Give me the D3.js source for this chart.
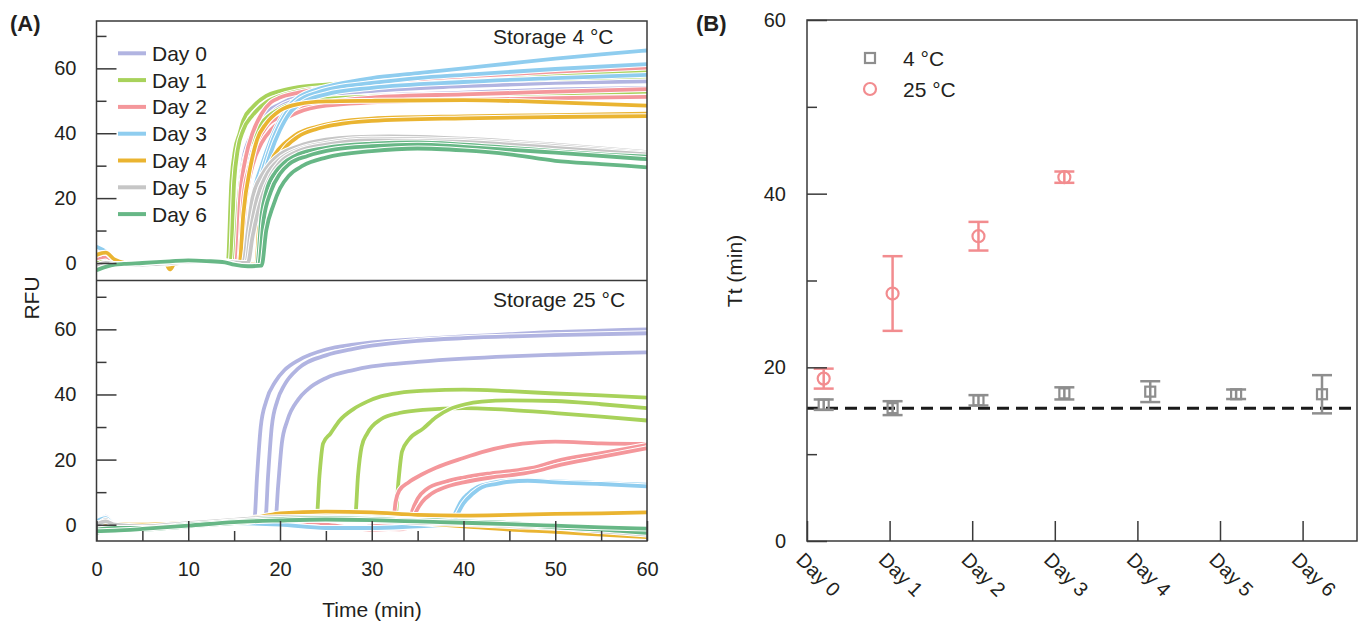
<!DOCTYPE html>
<html><head><meta charset="utf-8">
<script src="https://cdn.jsdelivr.net/npm/d3@7"></script>
<style>
html,body{margin:0;padding:0;background:#fff;}
svg{display:block;font-family:"Liberation Sans",Arial,Helvetica,sans-serif;}
</style></head><body>
<svg id="chart" width="1360" height="627"></svg>
<script>
// ---------------- DATA ----------------
const days = ["Day 0","Day 1","Day 2","Day 3","Day 4","Day 5","Day 6"];
const dayColors = ["#b1b4e1","#a8d25b","#f4979b","#8fcdef","#eab431","#c6c6c6","#67b786"];
const xTicksA = [0,10,20,30,40,50,60];
const xMinorA = [5,15,25,35,45,55];
const yTicksA = [0,20,40,60];
const yMinorA = [10,30,50,70];
const panelLabels = ["Storage 4 °C","Storage 25 °C"];

// Storage 4 °C: baseline (pre-onset) readings per day
const pre4C = [
 [[0,0.8],[1,1.2],[2,0],[3,-0.5],[5,-0.4],[8,0.2],[10,0.4],[12,0.5],[14,0.3]],
 [[0,0.3],[1,0.8],[2,-0.3],[3,-0.8],[5,-0.5],[8,0],[10,0.5],[12,0.6],[13.8,0.2]],
 [[0,1.5],[1,2],[2,0.5],[3,-0.3],[5,-0.8],[8,0],[10,0.3],[12,0.6],[14,0.5]],
 [[0,5],[1,3.5],[2,1],[3,0],[5,-0.5],[8,0],[10,0.3],[12,0.4],[14,0.2]],
 [[0,2.5],[1,3.2],[2,1],[3,0],[5,-0.5],[7.5,0],[8,-2],[8.5,-0.3],[10,0.3],[12,0.4],[14,0.3]],
 [[0,-1],[1,0],[2,-0.3],[3,-0.6],[5,-0.5],[8,0],[10,0.4],[12,0.5],[14,0.3]],
 [[0,-2.2],[1,-1.2],[2,-0.5],[3,-0.3],[5,0],[8,0.5],[10,0.8],[12,0.6],[14,0.2],[15,-0.5],[16.5,-1]]
];
// Storage 4 °C: amplification part, 3 replicates per day
const rise4C = [
 [ [[15,0],[15.5,20],[16,32],[17,40],[18,45],[20,49],[22,51.5],[25,53],[30,54.5],[40,55.5],[50,56.5],[60,57]],
   [[15.3,0],[15.8,20],[16.5,33],[17.5,41],[19,46],[21,49.5],[25,51.5],[30,53],[40,54.5],[50,55.5],[60,56]],
   [[15.5,0],[16,18],[17,33],[18,40],[20,46],[23,49.5],[30,51.5],[40,52.5],[50,53.5],[60,54]] ],
 [ [[14.3,0],[14.7,25],[15.1,35],[15.6,40],[16,44],[17,48],[18.5,51.5],[20,53],[22,54.2],[25,55],[30,56],[40,57.5],[50,58.3],[60,59]],
   [[14.6,0],[15,25],[15.4,35],[16,41],[17,45.5],[18.5,49.5],[20,51.5],[22,53],[25,54],[30,55],[40,56],[50,56.8],[60,57.5]],
   [[15,0],[15.5,20],[16,30],[17,38],[18,43],[20,47.5],[22,49.5],[25,50.5],[30,51.3],[40,52],[50,52.3],[60,52.8]] ],
 [ [[15.2,0],[15.7,22],[16.3,33],[17,40],[18,46],[19,49.5],[20,51],[22,52.5],[25,54],[30,55.5],[40,57.5],[50,59],[60,60.2]],
   [[15.5,0],[16,20],[16.7,30],[17.5,37],[18.5,42],[20,45],[22,47.5],[25,49.5],[30,51],[40,52],[50,52.8],[60,53.6]],
   [[15.7,0],[16.2,18],[17,30],[18,37],[19,41],[20,43.5],[22,46.5],[25,48.5],[30,49.5],[40,50.3],[50,50.8],[60,51.2]] ],
 [ [[16,0],[16.5,10],[17,20],[18,30],[19,38],[20,44],[21,48.5],[22,51],[24,53.5],[26,55],[30,57],[35,58.5],[40,60],[45,61.5],[50,63],[55,64.3],[60,65.5]],
   [[16.2,0],[16.8,10],[17.5,22],[18.5,32],[19.5,40],[20.5,45.5],[22,50],[24,52.5],[26,54],[30,55.5],[35,57],[40,58],[50,59.8],[60,61.3]],
   [[16.5,0],[17.2,12],[18,24],[19,34],[20,41],[21,46],[22.5,49.5],[25,52],[30,54],[40,55.8],[50,57],[60,58]] ],
 [ [[15.6,0],[16,15],[16.8,30],[17.5,38],[18.5,43],[20,47],[22,49],[25,49.8],[30,50],[40,50.2],[50,49.5],[60,48.5]],
   [[17.4,-0.5],[17.8,15],[18.3,24],[19,31],[20,35.5],[21,38],[22,40],[24,42],[26,43.3],[30,44.5],[40,45.2],[50,45.6],[60,46]],
   [[17.6,-0.5],[18,12],[18.6,22],[19.3,29],[20.3,34.5],[22,39],[24,41.3],[26,42.6],[30,43.8],[40,44.6],[50,45],[60,45.3]] ],
 [ [[16,0],[16.5,10],[17,20],[18,27],[19,31],[20,33.5],[22,36],[25,38],[28,38.8],[32,39],[40,38.3],[50,36.5],[60,34.2]],
   [[16.3,0],[16.8,10],[17.5,20],[18.5,27],[20,32],[22,35],[25,37],[30,38.3],[40,37.8],[50,36],[60,33.8]],
   [[16.5,0],[17,8],[18,20],[19,27],[20,31],[22,34.5],[25,36.5],[30,37.8],[40,37.3],[50,35.5],[60,33.5]] ],
 [ [[17.5,-0.8],[18,15],[18.5,22],[19.5,28],[20.5,31],[22,33.5],[25,35.5],[30,36.8],[35,37.2],[40,36.5],[45,35.5],[50,34.5],[55,33.5],[60,32.8]],
   [[17.7,-0.8],[18.2,13],[19,22],[20,27.5],[21,30.5],[23,33],[26,35],[30,36],[35,36.5],[40,35.8],[50,34],[60,32]],
   [[18,-0.8],[18.5,10],[19.3,18],[20,23],[21,27],[22.5,30],[25,32.5],[30,34.5],[35,35.3],[40,34.7],[45,33.5],[50,31.5],[55,30.5],[60,29.5]] ]
];

// Storage 25 °C
const pre25C = [
 [[0,0],[1,2.5],[2,0],[5,-0.5],[10,0],[14,0.8],[16,1.2]],
 [[0,-0.5],[1,1.5],[2,-0.5],[5,-0.8],[10,0],[15,1],[20,2],[23,2.5]],
 [[0,0.5],[2,0],[5,-0.5],[10,0.5],[15,1],[20,1],[25,0],[28,-1]],
 [[0,1],[1,2],[2,0],[5,0],[10,0.5],[15,0.5],[20,0],[25,-1],[30,-1],[35,-0.5]],
 [],[],[]
];
const rise25C = [
 [ [[17.2,1.5],[17.5,15],[17.9,30],[18.5,38],[19.5,44],[20.5,47.5],[22,50.5],[25,53.8],[28,55.3],[30,56],[35,57],[40,57.8],[45,58.5],[50,59.2],[55,59.6],[60,60]],
   [[18.4,1.5],[18.7,15],[19.1,30],[19.7,38],[20.5,43],[22,48],[25,52],[28,54],[30,55],[35,56.5],[40,57.3],[50,58.2],[60,58.8]],
   [[19.5,1.5],[19.8,12],[20.2,25],[20.8,32],[22,38.5],[23,41.5],[25,45],[28,47.5],[30,48.6],[35,50],[40,51],[45,51.7],[50,52.2],[55,52.6],[60,52.9]] ],
 [ [[24,2.5],[24.3,15],[24.7,25],[25.5,28],[26.5,32],[28,35.5],[29.5,37.8],[31,39.4],[33,40.5],[36,41.2],[40,41.5],[45,41],[50,40.3],[55,39.7],[60,39]],
   [[25,2.8],[27,3],[28.2,3],[28.5,15],[28.9,24],[29.5,28],[31,32.4],[33,34.3],[35.6,35.3],[40,35.8],[45,35.3],[50,34.3],[55,33.2],[60,32]],
   [[25,2.8],[28,3],[31,3],[32.6,3],[32.9,13],[33.3,22.5],[34,26],[35.6,29.5],[37,33],[38.5,35.5],[40.2,37],[42,37.8],[45,38.2],[50,38],[55,37],[60,35.8]] ],
 [ [[30,-0.5],[32.3,0.5],[32.6,7],[33,10.5],[34,13],[35.5,15.5],[37,17.5],[40,20.5],[42,22.3],[45,24.3],[48,25.3],[50,25.5],[55,25],[60,24.8]],
   [[30,-1.5],[33,-1.5],[34,-1],[34.4,4],[35,8],[36,11],[38,13.2],[40,14.5],[43,15.8],[46,16.8],[48,17.8],[50,19.5],[55,22],[60,24.5]],
   [[30,-1.5],[33,-1.2],[34.3,-1],[34.7,3],[35.5,7],[36.5,9.5],[38,11.5],[40,13],[43,14.5],[46,15.5],[48,16.5],[50,18],[55,20.8],[60,23.5]] ],
 [ [[38.5,0.5],[39,3],[39.7,7],[40.5,9.5],[41.5,11.5],[43,12.8],[45,13.5],[47,13.7],[50,13.3],[55,12.8],[60,12.3]],
   [[38.8,0.5],[39.3,3],[40,6.5],[41,9.5],[42,11.5],[43.5,12.5],[45,13.2],[47,13.5],[50,13],[55,12.5],[60,11.8]],
   [[40,0],[45,-0.5],[50,-0.5],[55,-1],[60,-1.5]] ],
 [ [[0,0],[2,0],[5,-0.5],[10,0.5],[15,1.5],[18,2.5],[20,3.5],[25,4],[30,3.8],[35,3],[40,2.8],[45,3],[50,3.3],[55,3.5],[60,3.8]],
   [[0,-0.5],[5,0],[10,0],[15,1],[20,2],[25,2.5],[30,2],[35,1.5],[40,0.5],[45,0],[50,-0.5],[55,-0.8],[60,-1]],
   [[0,0.5],[5,0],[10,0.5],[15,1],[20,2],[25,2],[30,1.5],[35,0.5],[40,-0.5],[45,-1.5],[50,-2.2],[55,-3],[60,-3.8]] ],
 [ [[0,-0.5],[1,1.5],[2,-0.5],[5,-1],[10,0],[15,1.5],[20,2],[25,2],[30,1.5],[35,1],[40,0.5],[45,0],[50,-0.5],[55,-1.5],[60,-2.5]],
   [[0,0],[1,1],[2,0],[5,-0.5],[10,0.5],[15,1.5],[20,2.3],[25,2.2],[30,2],[35,1.2],[40,0.8],[45,0.3],[50,-0.2],[55,-1],[60,-2]],
   [[0,-1],[2,-1],[5,-1.2],[10,-0.3],[15,1],[20,1.7],[25,1.8],[30,1.2],[35,0.6],[40,0.2],[45,-0.4],[50,-1],[55,-2],[60,-3]] ],
 [ [[0,-2.5],[2,-1.5],[5,-1.5],[10,-0.5],[15,0.5],[20,1.5],[25,1.5],[30,1.5],[35,1.5],[40,1],[45,0.5],[50,-0.5],[55,-1],[60,-1.5]],
   [[0,-1.5],[2,-1],[5,-1],[10,0],[15,1],[20,1.8],[25,2],[30,1.8],[35,1.2],[40,0.5],[45,0],[50,-0.8],[55,-1.5],[60,-2.5]],
   [[0,-2],[2,-1.8],[5,-1.3],[10,-0.3],[15,0.8],[20,1.3],[25,1.6],[30,1.4],[35,1],[40,0.6],[45,0.2],[50,-0.3],[55,-0.8],[60,-1.2]] ]
];

// Panel B: threshold time Tt (min), mean and error
const tt4C = [15.7,15.3,16.2,17.0,17.2,16.9,16.9];
const err4C = [0.6,0.8,0.6,0.7,1.2,0.55,2.2];
const tt25C = [18.7,28.5,35.1,41.9];
const err25C = [1.15,4.3,1.65,0.65];
const ttRef = 15.3;
const yTicksB = [0,20,40,60];
const yMinorB = [10,30,50];
const legendB = ["4 °C","25 °C"];

// ---------------- DRAW ----------------
const svg = d3.select("#chart");
const ink = "#231f20";
const frameCol = "#3a3a3a";

// ---- Panel A scales
const xA = d3.scaleLinear([0,60],[96.5,647]);
const yTop = d3.scaleLinear([-5.4,74.6],[280.5,21]);
const yBot = d3.scaleLinear([-5,75],[541,280.5]);

const defs = svg.append("defs");
defs.append("clipPath").attr("id","clipTop").append("rect")
  .attr("x",xA(0)).attr("y",yTop.range()[1]).attr("width",xA(60)-xA(0)).attr("height",yTop.range()[0]-yTop.range()[1]);
defs.append("clipPath").attr("id","clipBot").append("rect")
  .attr("x",xA(0)).attr("y",yBot.range()[1]).attr("width",xA(60)-xA(0)).attr("height",yBot.range()[0]-yBot.range()[1]);

function drawCurves(curves, y, clip){
  const g = svg.append("g").attr("clip-path",`url(#${clip})`);
  const line = d3.line().x(d=>xA(d[0])).y(d=>y(d[1])).curve(d3.curveMonotoneX);
  curves.forEach((reps,i)=>{
    reps.forEach(pts=>{
      g.append("path").attr("d",line(pts)).attr("fill","none")
        .attr("stroke","#fff").attr("stroke-width",5.8).attr("stroke-linejoin","round");
      g.append("path").attr("d",line(pts)).attr("fill","none")
        .attr("stroke",dayColors[i]).attr("stroke-width",3.8).attr("stroke-linejoin","round");
    });
  });
}
const curves4C = rise4C.map((reps,i)=>reps.map(r=>pre4C[i].concat(r)));
const curves25C = rise25C.map((reps,i)=>reps.map(r=>pre25C[i].concat(r)));
drawCurves(curves4C, yTop, "clipTop");
drawCurves(curves25C, yBot, "clipBot");

// y axes panel A
function yAxisA(y){
  const gM = svg.append("g").attr("transform",`translate(${xA(0)},0)`)
    .call(d3.axisLeft(y).tickValues(yTicksA).tickSize(-20).tickPadding(20));
  gM.select(".domain").remove();
  gM.selectAll("line").attr("stroke",frameCol).attr("stroke-width",1.5);
  gM.selectAll("text").attr("font-size",20).attr("fill",ink).attr("font-family","Liberation Sans, Arial, sans-serif");
  const gm = svg.append("g").attr("transform",`translate(${xA(0)},0)`)
    .call(d3.axisLeft(y).tickValues(yMinorA).tickSize(-10).tickFormat(""));
  gm.select(".domain").remove();
  gm.selectAll("line").attr("stroke",frameCol).attr("stroke-width",1.5);
}
yAxisA(yTop); yAxisA(yBot);

// x axis panel A
const gx = svg.append("g").attr("transform",`translate(0,${yBot.range()[0]})`)
  .call(d3.axisBottom(xA).tickValues(xTicksA).tickSize(-20).tickPadding(21));
gx.select(".domain").remove();
gx.selectAll("line").attr("stroke",frameCol).attr("stroke-width",1.5);
gx.selectAll("text").attr("font-size",20).attr("fill",ink).attr("font-family","Liberation Sans, Arial, sans-serif");
const gxm = svg.append("g").attr("transform",`translate(0,${yBot.range()[0]})`)
  .call(d3.axisBottom(xA).tickValues(xMinorA).tickSize(-10).tickFormat(""));
gxm.select(".domain").remove();
gxm.selectAll("line").attr("stroke",frameCol).attr("stroke-width",1.5);

// frame panel A
svg.append("rect").attr("x",xA(0)).attr("y",yTop.range()[1]).attr("width",xA(60)-xA(0))
  .attr("height",yBot.range()[0]-yTop.range()[1]).attr("fill","none").attr("stroke",frameCol).attr("stroke-width",1.5);
svg.append("line").attr("x1",xA(0)).attr("x2",xA(60)).attr("y1",yTop.range()[0]).attr("y2",yTop.range()[0])
  .attr("stroke",frameCol).attr("stroke-width",1.5);

// panel texts A
svg.append("text").attr("x",493).attr("y",44).attr("font-size",21).attr("fill",ink).text(panelLabels[0]);
svg.append("text").attr("x",493).attr("y",307).attr("font-size",21).attr("fill",ink).text(panelLabels[1]);
svg.append("text").attr("x",10).attr("y",31).attr("font-size",22).attr("font-weight","bold").attr("fill",ink).text("(A)");
svg.append("text").attr("transform","translate(39,298) rotate(-90)").attr("text-anchor","middle")
  .attr("font-size",21).attr("fill",ink).text("RFU");
svg.append("text").attr("x",372).attr("y",617).attr("text-anchor","middle").attr("font-size",21).attr("fill",ink).text("Time (min)");

// legend A
const legA = svg.append("g");
days.forEach((d,i)=>{
  const yy = 53.3 + i*26.8;
  legA.append("line").attr("x1",118).attr("x2",146).attr("y1",yy).attr("y2",yy)
    .attr("stroke",dayColors[i]).attr("stroke-width",4);
  legA.append("text").attr("x",152).attr("y",yy).attr("dy","0.36em").attr("font-size",21).attr("fill",ink).text(d);
});

// ---- Panel B
const yB = d3.scaleLinear([0,60],[541,20]);
const xTickB = d3.scalePoint(days,[807,1302.6]);
const xMarkB = d3.scaleLinear([0,6],[806.7,1322]);
const markX = i => Math.max(xMarkB(i), xMarkB(0)+17);
const bLeft = 807, bRight = 1357;
const grey = "#8e8e8e", pink = "#f28c8f";

// dashed reference line
svg.append("line").attr("x1",bLeft).attr("x2",bRight).attr("y1",yB(ttRef)).attr("y2",yB(ttRef))
  .attr("stroke","#1a1a1a").attr("stroke-width",3).attr("stroke-dasharray","12,7");

function errBars(vals, errs, color, shape){
  const g = svg.append("g");
  vals.forEach((v,i)=>{
    const x = markX(i), e = errs[i];
    g.append("line").attr("x1",x).attr("x2",x).attr("y1",yB(v+e)).attr("y2",yB(v-e)).attr("stroke",color).attr("stroke-width",2.5);
    [v+e, v-e].forEach(c=>g.append("line").attr("x1",x-10).attr("x2",x+10).attr("y1",yB(c)).attr("y2",yB(c))
      .attr("stroke",color).attr("stroke-width",2.5));
    if(shape==="square"){
      g.append("rect").attr("x",x-5).attr("y",yB(v)-5).attr("width",10).attr("height",10)
        .attr("fill","none").attr("stroke",color).attr("stroke-width",2.2);
    } else {
      g.append("circle").attr("cx",x).attr("cy",yB(v)).attr("r",6).attr("fill","none").attr("stroke",color).attr("stroke-width",2.2);
    }
  });
}
errBars(tt4C, err4C, grey, "square");
errBars(tt25C, err25C, pink, "circle");

// y axis B
const gyB = svg.append("g").attr("transform",`translate(${bLeft},0)`)
  .call(d3.axisLeft(yB).tickValues(yTicksB).tickSize(-20).tickPadding(21));
gyB.select(".domain").remove();
gyB.selectAll("line").attr("stroke",frameCol).attr("stroke-width",1.5);
gyB.selectAll("text").attr("font-size",20).attr("fill",ink).attr("font-family","Liberation Sans, Arial, sans-serif");
const gyBm = svg.append("g").attr("transform",`translate(${bLeft},0)`)
  .call(d3.axisLeft(yB).tickValues(yMinorB).tickSize(-10).tickFormat(""));
gyBm.select(".domain").remove();
gyBm.selectAll("line").attr("stroke",frameCol).attr("stroke-width",1.5);

// x axis B
const gxB = svg.append("g").attr("transform",`translate(0,${yB(0)})`)
  .call(d3.axisBottom(xTickB).tickSize(-20).tickFormat(""));
gxB.select(".domain").remove();
gxB.selectAll("line").attr("stroke",frameCol).attr("stroke-width",1.5);
days.forEach(d=>{
  svg.append("text").attr("transform",`translate(${xTickB(d)-12},${561})rotate(45)`)
    .attr("font-size",20).attr("fill",ink).text(d);
});

// frame B
svg.append("rect").attr("x",bLeft).attr("y",yB(60)).attr("width",bRight-bLeft).attr("height",yB(0)-yB(60))
  .attr("fill","none").attr("stroke",frameCol).attr("stroke-width",1.5);

// texts B
svg.append("text").attr("x",696).attr("y",31).attr("font-size",22).attr("font-weight","bold").attr("fill",ink).text("(B)");
svg.append("text").attr("transform","translate(742,271) rotate(-90)").attr("text-anchor","middle")
  .attr("font-size",21).attr("fill",ink).text("Tt (min)");

// legend B
svg.append("rect").attr("x",865).attr("y",53).attr("width",10).attr("height",10)
  .attr("fill","none").attr("stroke",grey).attr("stroke-width",2.2);
svg.append("circle").attr("cx",870).attr("cy",89).attr("r",6).attr("fill","none").attr("stroke",pink).attr("stroke-width",2.2);
svg.append("text").attr("x",903).attr("y",58).attr("dy","0.36em").attr("font-size",21).attr("fill",ink).text(legendB[0]);
svg.append("text").attr("x",903).attr("y",89).attr("dy","0.36em").attr("font-size",21).attr("fill",ink).text(legendB[1]);
</script></body></html>
